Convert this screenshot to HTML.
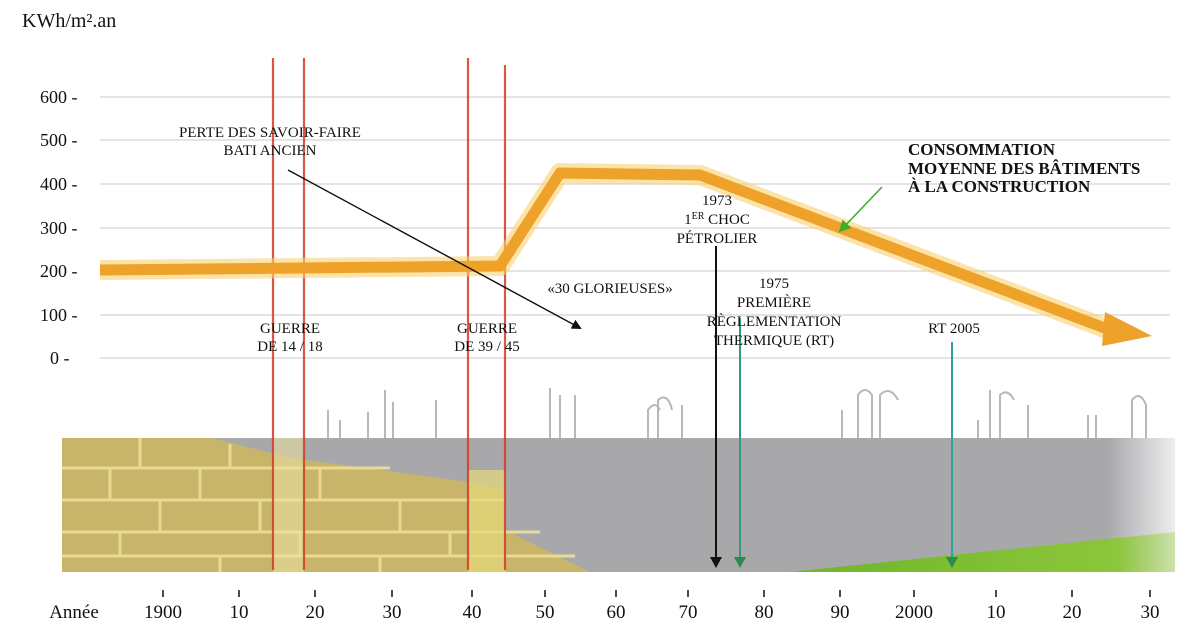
<!DOCTYPE html>
<html><head><meta charset="utf-8"><style>
html,body{margin:0;padding:0;background:#fff;}
svg{display:block;font-family:"Liberation Serif",serif;}
</style></head><body>
<svg width="1200" height="635" viewBox="0 0 1200 635" xmlns="http://www.w3.org/2000/svg">
<defs>
<marker id="ab" markerWidth="10" markerHeight="10" refX="8" refY="5" orient="auto" markerUnits="userSpaceOnUse"><path d="M0,0 L10,5 L0,10 z" fill="#111"/></marker>
<marker id="ag" markerWidth="12" markerHeight="12" refX="10" refY="6" orient="auto" markerUnits="userSpaceOnUse"><path d="M0,0 L12,6 L0,12 z" fill="#3dae2b"/></marker>
<linearGradient id="fade" x1="0" x2="1"><stop offset="0.93" stop-color="#a8a8aa"/><stop offset="1" stop-color="#a8a8aa" stop-opacity="0.2"/></linearGradient>
<linearGradient id="gfade" x1="0" x2="1"><stop offset="0" stop-color="#6fb52a"/><stop offset="0.85" stop-color="#8cc63a"/><stop offset="1" stop-color="#b8dc80" stop-opacity="0.6"/></linearGradient>
</defs>
<text x="22" y="27" font-size="20" fill="#111">KWh/m².an</text>
<g stroke="#d4d4d4" stroke-width="1.2">
<line x1="100" y1="97" x2="1170" y2="97"/><line x1="100" y1="140" x2="1170" y2="140"/>
<line x1="100" y1="184" x2="1170" y2="184"/><line x1="100" y1="228" x2="1170" y2="228"/>
<line x1="100" y1="271" x2="1170" y2="271"/><line x1="100" y1="315" x2="1170" y2="315"/>
<line x1="100" y1="358" x2="1170" y2="358"/>
</g>
<g font-size="18" fill="#111">
<text x="40" y="103">600 -</text><text x="40" y="146">500 -</text><text x="40" y="190">400 -</text>
<text x="40" y="234">300 -</text><text x="40" y="277">200 -</text><text x="40" y="321">100 -</text>
<text x="50" y="364">0 -</text>
</g>
<rect x="200" y="438" width="975" height="134" fill="url(#fade)"/>
<polygon points="62,438 212,438 290,458 380,470 468,482 505,490 505,530 590,572 62,572" fill="#c9b56a"/>
<g stroke="#ecdf9a" stroke-width="3" fill="none" opacity="0.9">
<path d="M62,468 L390,468 M62,500 L505,500 M62,532 L540,532 M62,556 L575,556"/>
<path d="M140,438 V468 M230,444 V468 M110,468 V500 M200,468 V500 M320,468 V500 M160,500 V532 M260,500 V532 M400,500 V532 M120,532 V556 M300,532 V556 M450,532 V556 M220,556 V572 M380,556 V572"/>
</g>
<rect x="273" y="438" width="31" height="134" fill="#e8e0a0" opacity="0.6"/>
<rect x="468" y="470" width="37" height="102" fill="#e6da7a" opacity="0.7"/>
<polygon points="790,572 1175,532 1175,572" fill="url(#gfade)"/>
<g stroke="#b8b8b8" stroke-width="2" fill="none">
<path d="M328,438 V410 M340,438 V420 M368,438 V412 M385,438 V390 M393,438 V402 M436,438 V400 M550,438 V388 M560,438 V395 M575,438 V395"/>
<path d="M648,438 V410 Q655,400 660,410 M658,438 V400 Q668,392 672,410 M682,438 V405 M842,438 V410 M858,438 V395 Q865,385 872,395 V438 M880,438 V395 Q890,385 898,400 M978,438 V420 M990,438 V390 M1000,438 V395 Q1008,388 1014,400 M1028,438 V405 M1088,438 V415 M1096,438 V415 M1132,438 V400 Q1140,390 1146,405 V438"/>
</g>
<g stroke="#d23a2a" stroke-width="2.2" opacity="0.85">
<line x1="273" y1="58" x2="273" y2="570"/><line x1="304" y1="58" x2="304" y2="570"/>
<line x1="468" y1="58" x2="468" y2="570"/><line x1="505" y1="65" x2="505" y2="570"/>
</g>
<polyline points="100,270 300,268 500,266 560,173 700,175 1110,330" fill="none" stroke="#f8d070" stroke-width="20" stroke-linejoin="round" opacity="0.6"/>
<polyline points="100,270 300,268 500,266 560,173 700,175 1115,332" fill="none" stroke="#eea22a" stroke-width="11" stroke-linejoin="round"/>
<polygon points="1105,312 1152,336 1102,346" fill="#eea22a"/>
<line x1="288" y1="170" x2="580" y2="328" stroke="#111" stroke-width="1.4" marker-end="url(#ab)"/>
<line x1="882" y1="187" x2="840" y2="231" stroke="#3dae2b" stroke-width="1.6" marker-end="url(#ag)"/>
<line x1="716" y1="246" x2="716" y2="560" stroke="#111" stroke-width="2"/>
<polygon points="710,557 722,557 716,568" fill="#111"/>
<line x1="740" y1="318" x2="740" y2="560" stroke="#2e9a80" stroke-width="2"/>
<polygon points="734,557 746,557 740,568" fill="#2e8a50"/>
<line x1="952" y1="342" x2="952" y2="560" stroke="#2aa59a" stroke-width="2"/>
<polygon points="946,557 958,557 952,568" fill="#2e8a50"/>
<g font-size="15" fill="#111" text-anchor="middle">
<text x="270" y="137">PERTE DES SAVOIR-FAIRE</text>
<text x="270" y="155">BATI ANCIEN</text>
<text x="290" y="333">GUERRE</text><text x="290" y="351">DE 14 / 18</text>
<text x="487" y="333">GUERRE</text><text x="487" y="351">DE 39 / 45</text>
<text x="610" y="293">«30 GLORIEUSES»</text>
<text x="717" y="205">1973</text>
<text x="717" y="224">1<tspan font-size="10" dy="-5">ER</tspan><tspan dy="5"> CHOC</tspan></text>
<text x="717" y="243">PÉTROLIER</text>
<text x="774" y="288">1975</text><text x="774" y="307">PREMIÈRE</text>
<text x="774" y="326">RÈGLEMENTATION</text><text x="774" y="345">THERMIQUE (RT)</text>
<text x="954" y="333">RT 2005</text>
</g>
<g font-size="17" font-weight="bold" fill="#111">
<text x="908" y="155">CONSOMMATION</text>
<text x="908" y="174">MOYENNE DES BÂTIMENTS</text>
<text x="908" y="192">À LA CONSTRUCTION</text>
</g>
<g stroke="#111" stroke-width="1.5">
<line x1="163" y1="590" x2="163" y2="597"/><line x1="239" y1="590" x2="239" y2="597"/><line x1="315" y1="590" x2="315" y2="597"/>
<line x1="392" y1="590" x2="392" y2="597"/><line x1="472" y1="590" x2="472" y2="597"/><line x1="545" y1="590" x2="545" y2="597"/>
<line x1="616" y1="590" x2="616" y2="597"/><line x1="688" y1="590" x2="688" y2="597"/><line x1="764" y1="590" x2="764" y2="597"/>
<line x1="840" y1="590" x2="840" y2="597"/><line x1="914" y1="590" x2="914" y2="597"/><line x1="996" y1="590" x2="996" y2="597"/>
<line x1="1072" y1="590" x2="1072" y2="597"/><line x1="1150" y1="590" x2="1150" y2="597"/>
</g>
<g font-size="19" fill="#111" text-anchor="middle">
<text x="74" y="618">Année</text>
<text x="163" y="618">1900</text>
<text x="239" y="618">10</text><text x="315" y="618">20</text><text x="392" y="618">30</text>
<text x="472" y="618">40</text><text x="545" y="618">50</text><text x="616" y="618">60</text>
<text x="688" y="618">70</text><text x="764" y="618">80</text><text x="840" y="618">90</text>
<text x="914" y="618">2000</text><text x="996" y="618">10</text><text x="1072" y="618">20</text>
<text x="1150" y="618">30</text>
</g>
</svg>
</body></html>
